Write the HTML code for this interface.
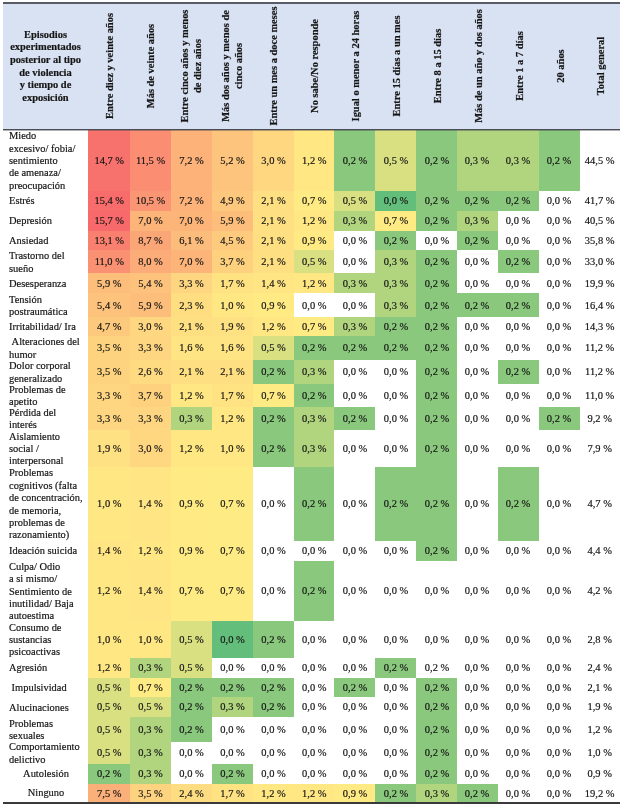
<!DOCTYPE html>
<html lang="es"><head><meta charset="utf-8"><title>Tabla</title>
<style>
html,body{margin:0;padding:0;background:#fff;}
body{width:624px;height:805px;position:relative;overflow:hidden;font-family:"Liberation Serif","Times New Roman",serif;font-size:10.45px;color:#151515;-webkit-text-stroke:0.18px #151515;}
.a{position:absolute;}
.hd{left:3px;top:2px;width:617.3px;height:128px;background:#d9e2f3;border-top:2px solid #595c66;border-bottom:1px solid #4b4d56;box-sizing:border-box;}
.h0{left:3px;top:4px;width:85px;height:125px;display:flex;align-items:center;justify-content:center;text-align:center;font-weight:bold;line-height:12.6px;}
.hv{top:3px;width:41px;height:125px;}
.hv span{font-size:10.45px;position:absolute;left:50%;top:50%;transform:translate(-50%,-50%) rotate(-90deg);white-space:nowrap;text-align:center;font-weight:bold;line-height:13px;display:block;}
.r{left:3px;width:618px;}
.l{position:absolute;left:6px;top:1px;bottom:-1px;width:82px;display:flex;align-items:center;line-height:12.4px;white-space:nowrap;}
.l.c{left:0;width:85px;justify-content:center;}
.c{position:absolute;top:0;bottom:0;width:41px;box-sizing:border-box;padding-left:1px;display:flex;align-items:center;justify-content:center;white-space:nowrap;}
.hb{left:3px;top:130px;width:617.3px;height:1px;background:rgba(60,62,72,0.4);}
.bt{left:3px;top:802px;width:617.3px;height:1.5px;background:#3a3a3a;}
</style></head><body>
<div class="a hd"></div>
<div class="a h0"><div>Episodios<br>experimentados<br>posterior al tipo<br>de violencia<br>y tiempo de<br>exposición</div></div>
<div class="a hv" style="left:88px;width:41.5px"><span>Entre diez y veinte años</span></div>
<div class="a hv" style="left:129.5px;width:41px"><span>Más de veinte años</span></div>
<div class="a hv" style="left:170.5px;width:41px"><span>Entre cinco años y menos<br>de diez años</span></div>
<div class="a hv" style="left:211.5px;width:41px"><span>Más dos años y menos de<br>cinco años</span></div>
<div class="a hv" style="left:252.5px;width:41px"><span>Entre un mes a doce meses</span></div>
<div class="a hv" style="left:293.5px;width:40.5px"><span>No sabe/No responde</span></div>
<div class="a hv" style="left:334px;width:41px"><span>Igual o menor a 24 horas</span></div>
<div class="a hv" style="left:375px;width:41px"><span>Entre 15 días a un mes</span></div>
<div class="a hv" style="left:416px;width:41px"><span>Entre 8 a 15 días</span></div>
<div class="a hv" style="left:457px;width:41px"><span>Más de un año y dos años</span></div>
<div class="a hv" style="left:498px;width:41px"><span>Entre 1 a 7 días</span></div>
<div class="a hv" style="left:539px;width:41px"><span>20 años</span></div>
<div class="a hv" style="left:580px;width:40.3px"><span>Total general</span></div>
<div class="a r" style="top:130px;height:60.5px"><div class="l"><div>Miedo<br>excesivo/ fobia/<br>sentimiento<br>de amenaza/<br>preocupación</div></div><div class="c" style="left:85px;width:41.5px;background:#f8726d">14,7 %</div><div class="c" style="left:126.5px;width:41px;background:#fa8d72">11,5 %</div><div class="c" style="left:167.5px;width:41px;background:#fcb279">7,2 %</div><div class="c" style="left:208.5px;width:41px;background:#fdc47d">5,2 %</div><div class="c" style="left:249.5px;width:41px;background:#fed780">3,0 %</div><div class="c" style="left:290.5px;width:40.5px;background:#ffe783">1,2 %</div><div class="c" style="left:331px;width:41px;background:#8ac97d">0,2 %</div><div class="c" style="left:372px;width:41px;background:#d8e082">0,5 %</div><div class="c" style="left:413px;width:41px;background:#8ac97d">0,2 %</div><div class="c" style="left:454px;width:41px;padding:0 1px 0 0;background:#b1d47f">0,3 %</div><div class="c" style="left:495px;width:41px;padding:0 1px 0 0;background:#b1d47f">0,3 %</div><div class="c" style="left:536px;width:41px;padding:0 1px 0 0;background:#8ac97d">0,2 %</div><div class="c" style="left:577px;width:40.3px;padding:0 1px 0 0">44,5 %</div></div>
<div class="a r" style="top:190.5px;height:20px"><div class="l"><div>Estrés</div></div><div class="c" style="left:85px;width:41.5px;background:#f86c6c">15,4 %</div><div class="c" style="left:126.5px;width:41px;background:#fa9674">10,5 %</div><div class="c" style="left:167.5px;width:41px;background:#fcb279">7,2 %</div><div class="c" style="left:208.5px;width:41px;background:#fdc77d">4,9 %</div><div class="c" style="left:249.5px;width:41px;background:#fedf82">2,1 %</div><div class="c" style="left:290.5px;width:40.5px;background:#ffeb84">0,7 %</div><div class="c" style="left:331px;width:41px;background:#d8e082">0,5 %</div><div class="c" style="left:372px;width:41px;background:#63be7b">0,0 %</div><div class="c" style="left:413px;width:41px;background:#8ac97d">0,2 %</div><div class="c" style="left:454px;width:41px;padding:0 1px 0 0;background:#8ac97d">0,2 %</div><div class="c" style="left:495px;width:41px;padding:0 1px 0 0;background:#8ac97d">0,2 %</div><div class="c" style="left:536px;width:41px;padding:0 1px 0 0">0,0 %</div><div class="c" style="left:577px;width:40.3px;padding:0 1px 0 0">41,7 %</div></div>
<div class="a r" style="top:210.5px;height:20px"><div class="l"><div>Depresión</div></div><div class="c" style="left:85px;width:41.5px;background:#f8696b">15,7 %</div><div class="c" style="left:126.5px;width:41px;background:#fcb479">7,0 %</div><div class="c" style="left:167.5px;width:41px;background:#fcb479">7,0 %</div><div class="c" style="left:208.5px;width:41px;background:#fdbe7b">5,9 %</div><div class="c" style="left:249.5px;width:41px;background:#fedf82">2,1 %</div><div class="c" style="left:290.5px;width:40.5px;background:#ffe783">1,2 %</div><div class="c" style="left:331px;width:41px;background:#b1d47f">0,3 %</div><div class="c" style="left:372px;width:41px;background:#ffeb84">0,7 %</div><div class="c" style="left:413px;width:41px;background:#8ac97d">0,2 %</div><div class="c" style="left:454px;width:41px;padding:0 1px 0 0;background:#b1d47f">0,3 %</div><div class="c" style="left:495px;width:41px;padding:0 1px 0 0">0,0 %</div><div class="c" style="left:536px;width:41px;padding:0 1px 0 0">0,0 %</div><div class="c" style="left:577px;width:40.3px;padding:0 1px 0 0">40,5 %</div></div>
<div class="a r" style="top:230.5px;height:19.5px"><div class="l"><div>Ansiedad</div></div><div class="c" style="left:85px;width:41.5px;background:#f97f6f">13,1 %</div><div class="c" style="left:126.5px;width:41px;background:#fba677">8,7 %</div><div class="c" style="left:167.5px;width:41px;background:#fcbc7b">6,1 %</div><div class="c" style="left:208.5px;width:41px;background:#fdca7e">4,5 %</div><div class="c" style="left:249.5px;width:41px;background:#fedf82">2,1 %</div><div class="c" style="left:290.5px;width:40.5px;background:#ffea84">0,9 %</div><div class="c" style="left:331px;width:41px">0,0 %</div><div class="c" style="left:372px;width:41px;background:#8ac97d">0,2 %</div><div class="c" style="left:413px;width:41px">0,0 %</div><div class="c" style="left:454px;width:41px;padding:0 1px 0 0;background:#8ac97d">0,2 %</div><div class="c" style="left:495px;width:41px;padding:0 1px 0 0">0,0 %</div><div class="c" style="left:536px;width:41px;padding:0 1px 0 0">0,0 %</div><div class="c" style="left:577px;width:40.3px;padding:0 1px 0 0">35,8 %</div></div>
<div class="a r" style="top:250px;height:23px"><div class="l"><div>Trastorno del<br>sueño</div></div><div class="c" style="left:85px;width:41.5px;background:#fa9173">11,0 %</div><div class="c" style="left:126.5px;width:41px;background:#fcac78">8,0 %</div><div class="c" style="left:167.5px;width:41px;background:#fcb479">7,0 %</div><div class="c" style="left:208.5px;width:41px;background:#fed17f">3,7 %</div><div class="c" style="left:249.5px;width:41px;background:#fedf82">2,1 %</div><div class="c" style="left:290.5px;width:40.5px;background:#d8e082">0,5 %</div><div class="c" style="left:331px;width:41px">0,0 %</div><div class="c" style="left:372px;width:41px;background:#b1d47f">0,3 %</div><div class="c" style="left:413px;width:41px;background:#8ac97d">0,2 %</div><div class="c" style="left:454px;width:41px;padding:0 1px 0 0">0,0 %</div><div class="c" style="left:495px;width:41px;padding:0 1px 0 0;background:#8ac97d">0,2 %</div><div class="c" style="left:536px;width:41px;padding:0 1px 0 0">0,0 %</div><div class="c" style="left:577px;width:40.3px;padding:0 1px 0 0">33,0 %</div></div>
<div class="a r" style="top:273px;height:20px"><div class="l"><div>Desesperanza</div></div><div class="c" style="left:85px;width:41.5px;background:#fdbe7b">5,9 %</div><div class="c" style="left:126.5px;width:41px;background:#fdc37c">5,4 %</div><div class="c" style="left:167.5px;width:41px;background:#fed580">3,3 %</div><div class="c" style="left:208.5px;width:41px;background:#ffe282">1,7 %</div><div class="c" style="left:249.5px;width:41px;background:#ffe583">1,4 %</div><div class="c" style="left:290.5px;width:40.5px;background:#ffe783">1,2 %</div><div class="c" style="left:331px;width:41px;background:#b1d47f">0,3 %</div><div class="c" style="left:372px;width:41px;background:#b1d47f">0,3 %</div><div class="c" style="left:413px;width:41px;background:#8ac97d">0,2 %</div><div class="c" style="left:454px;width:41px;padding:0 1px 0 0">0,0 %</div><div class="c" style="left:495px;width:41px;padding:0 1px 0 0">0,0 %</div><div class="c" style="left:536px;width:41px;padding:0 1px 0 0">0,0 %</div><div class="c" style="left:577px;width:40.3px;padding:0 1px 0 0">19,9 %</div></div>
<div class="a r" style="top:293px;height:24px"><div class="l"><div>Tensión<br>postraumática</div></div><div class="c" style="left:85px;width:41.5px;background:#fdc37c">5,4 %</div><div class="c" style="left:126.5px;width:41px;background:#fdbe7b">5,9 %</div><div class="c" style="left:167.5px;width:41px;background:#fede81">2,3 %</div><div class="c" style="left:208.5px;width:41px;background:#ffe883">1,0 %</div><div class="c" style="left:249.5px;width:41px;background:#ffea84">0,9 %</div><div class="c" style="left:290.5px;width:40.5px">0,0 %</div><div class="c" style="left:331px;width:41px">0,0 %</div><div class="c" style="left:372px;width:41px;background:#b1d47f">0,3 %</div><div class="c" style="left:413px;width:41px;background:#8ac97d">0,2 %</div><div class="c" style="left:454px;width:41px;padding:0 1px 0 0;background:#8ac97d">0,2 %</div><div class="c" style="left:495px;width:41px;padding:0 1px 0 0;background:#8ac97d">0,2 %</div><div class="c" style="left:536px;width:41px;padding:0 1px 0 0">0,0 %</div><div class="c" style="left:577px;width:40.3px;padding:0 1px 0 0">16,4 %</div></div>
<div class="a r" style="top:317px;height:19px"><div class="l"><div>Irritabilidad/ Ira</div></div><div class="c" style="left:85px;width:41.5px;background:#fdc97d">4,7 %</div><div class="c" style="left:126.5px;width:41px;background:#fed780">3,0 %</div><div class="c" style="left:167.5px;width:41px;background:#fedf82">2,1 %</div><div class="c" style="left:208.5px;width:41px;background:#fee182">1,9 %</div><div class="c" style="left:249.5px;width:41px;background:#ffe783">1,2 %</div><div class="c" style="left:290.5px;width:40.5px;background:#ffeb84">0,7 %</div><div class="c" style="left:331px;width:41px;background:#b1d47f">0,3 %</div><div class="c" style="left:372px;width:41px;background:#8ac97d">0,2 %</div><div class="c" style="left:413px;width:41px;background:#8ac97d">0,2 %</div><div class="c" style="left:454px;width:41px;padding:0 1px 0 0">0,0 %</div><div class="c" style="left:495px;width:41px;padding:0 1px 0 0">0,0 %</div><div class="c" style="left:536px;width:41px;padding:0 1px 0 0">0,0 %</div><div class="c" style="left:577px;width:40.3px;padding:0 1px 0 0">14,3 %</div></div>
<div class="a r" style="top:336px;height:23.5px"><div class="l"><div>&nbsp;Alteraciones del<br>humor</div></div><div class="c" style="left:85px;width:41.5px;background:#fed37f">3,5 %</div><div class="c" style="left:126.5px;width:41px;background:#fed580">3,3 %</div><div class="c" style="left:167.5px;width:41px;background:#ffe483">1,6 %</div><div class="c" style="left:208.5px;width:41px;background:#ffe483">1,6 %</div><div class="c" style="left:249.5px;width:41px;background:#d8e082">0,5 %</div><div class="c" style="left:290.5px;width:40.5px;background:#8ac97d">0,2 %</div><div class="c" style="left:331px;width:41px;background:#8ac97d">0,2 %</div><div class="c" style="left:372px;width:41px;background:#8ac97d">0,2 %</div><div class="c" style="left:413px;width:41px;background:#8ac97d">0,2 %</div><div class="c" style="left:454px;width:41px;padding:0 1px 0 0">0,0 %</div><div class="c" style="left:495px;width:41px;padding:0 1px 0 0">0,0 %</div><div class="c" style="left:536px;width:41px;padding:0 1px 0 0">0,0 %</div><div class="c" style="left:577px;width:40.3px;padding:0 1px 0 0">11,2 %</div></div>
<div class="a r" style="top:359.5px;height:24px"><div class="l"><div>Dolor corporal<br>generalizado</div></div><div class="c" style="left:85px;width:41.5px;background:#fed37f">3,5 %</div><div class="c" style="left:126.5px;width:41px;background:#fedb81">2,6 %</div><div class="c" style="left:167.5px;width:41px;background:#fedf82">2,1 %</div><div class="c" style="left:208.5px;width:41px;background:#fedf82">2,1 %</div><div class="c" style="left:249.5px;width:41px;background:#8ac97d">0,2 %</div><div class="c" style="left:290.5px;width:40.5px;background:#b1d47f">0,3 %</div><div class="c" style="left:331px;width:41px">0,0 %</div><div class="c" style="left:372px;width:41px">0,0 %</div><div class="c" style="left:413px;width:41px;background:#8ac97d">0,2 %</div><div class="c" style="left:454px;width:41px;padding:0 1px 0 0">0,0 %</div><div class="c" style="left:495px;width:41px;padding:0 1px 0 0;background:#8ac97d">0,2 %</div><div class="c" style="left:536px;width:41px;padding:0 1px 0 0">0,0 %</div><div class="c" style="left:577px;width:40.3px;padding:0 1px 0 0">11,2 %</div></div>
<div class="a r" style="top:383.5px;height:23px"><div class="l"><div>Problemas de<br>apetito</div></div><div class="c" style="left:85px;width:41.5px;background:#fed580">3,3 %</div><div class="c" style="left:126.5px;width:41px;background:#fed17f">3,7 %</div><div class="c" style="left:167.5px;width:41px;background:#ffe783">1,2 %</div><div class="c" style="left:208.5px;width:41px;background:#ffe282">1,7 %</div><div class="c" style="left:249.5px;width:41px;background:#ffeb84">0,7 %</div><div class="c" style="left:290.5px;width:40.5px;background:#8ac97d">0,2 %</div><div class="c" style="left:331px;width:41px">0,0 %</div><div class="c" style="left:372px;width:41px">0,0 %</div><div class="c" style="left:413px;width:41px;background:#8ac97d">0,2 %</div><div class="c" style="left:454px;width:41px;padding:0 1px 0 0">0,0 %</div><div class="c" style="left:495px;width:41px;padding:0 1px 0 0">0,0 %</div><div class="c" style="left:536px;width:41px;padding:0 1px 0 0">0,0 %</div><div class="c" style="left:577px;width:40.3px;padding:0 1px 0 0">11,0 %</div></div>
<div class="a r" style="top:406.5px;height:23.5px"><div class="l"><div>Pérdida del<br>interés</div></div><div class="c" style="left:85px;width:41.5px;background:#fed580">3,3 %</div><div class="c" style="left:126.5px;width:41px;background:#fed580">3,3 %</div><div class="c" style="left:167.5px;width:41px;background:#b1d47f">0,3 %</div><div class="c" style="left:208.5px;width:41px;background:#ffe783">1,2 %</div><div class="c" style="left:249.5px;width:41px;background:#8ac97d">0,2 %</div><div class="c" style="left:290.5px;width:40.5px;background:#b1d47f">0,3 %</div><div class="c" style="left:331px;width:41px;background:#8ac97d">0,2 %</div><div class="c" style="left:372px;width:41px">0,0 %</div><div class="c" style="left:413px;width:41px;background:#8ac97d">0,2 %</div><div class="c" style="left:454px;width:41px;padding:0 1px 0 0">0,0 %</div><div class="c" style="left:495px;width:41px;padding:0 1px 0 0">0,0 %</div><div class="c" style="left:536px;width:41px;padding:0 1px 0 0;background:#8ac97d">0,2 %</div><div class="c" style="left:577px;width:40.3px;padding:0 1px 0 0">9,2 %</div></div>
<div class="a r" style="top:430px;height:36.5px"><div class="l"><div>Aislamiento<br>social /<br>interpersonal</div></div><div class="c" style="left:85px;width:41.5px;background:#fee182">1,9 %</div><div class="c" style="left:126.5px;width:41px;background:#fed780">3,0 %</div><div class="c" style="left:167.5px;width:41px;background:#ffe783">1,2 %</div><div class="c" style="left:208.5px;width:41px;background:#ffe883">1,0 %</div><div class="c" style="left:249.5px;width:41px;background:#8ac97d">0,2 %</div><div class="c" style="left:290.5px;width:40.5px;background:#b1d47f">0,3 %</div><div class="c" style="left:331px;width:41px">0,0 %</div><div class="c" style="left:372px;width:41px">0,0 %</div><div class="c" style="left:413px;width:41px;background:#8ac97d">0,2 %</div><div class="c" style="left:454px;width:41px;padding:0 1px 0 0">0,0 %</div><div class="c" style="left:495px;width:41px;padding:0 1px 0 0">0,0 %</div><div class="c" style="left:536px;width:41px;padding:0 1px 0 0">0,0 %</div><div class="c" style="left:577px;width:40.3px;padding:0 1px 0 0">7,9 %</div></div>
<div class="a r" style="top:466.5px;height:74px"><div class="l"><div>Problemas<br>cognitivos (falta<br>de concentración,<br>de memoria,<br>problemas de<br>razonamiento)</div></div><div class="c" style="left:85px;width:41.5px;background:#ffe883">1,0 %</div><div class="c" style="left:126.5px;width:41px;background:#ffe583">1,4 %</div><div class="c" style="left:167.5px;width:41px;background:#ffea84">0,9 %</div><div class="c" style="left:208.5px;width:41px;background:#ffeb84">0,7 %</div><div class="c" style="left:249.5px;width:41px">0,0 %</div><div class="c" style="left:290.5px;width:40.5px;background:#8ac97d">0,2 %</div><div class="c" style="left:331px;width:41px">0,0 %</div><div class="c" style="left:372px;width:41px;background:#8ac97d">0,2 %</div><div class="c" style="left:413px;width:41px;background:#8ac97d">0,2 %</div><div class="c" style="left:454px;width:41px;padding:0 1px 0 0">0,0 %</div><div class="c" style="left:495px;width:41px;padding:0 1px 0 0;background:#8ac97d">0,2 %</div><div class="c" style="left:536px;width:41px;padding:0 1px 0 0">0,0 %</div><div class="c" style="left:577px;width:40.3px;padding:0 1px 0 0">4,7 %</div></div>
<div class="a r" style="top:540.5px;height:20px"><div class="l"><div>Ideación suicida</div></div><div class="c" style="left:85px;width:41.5px;background:#ffe583">1,4 %</div><div class="c" style="left:126.5px;width:41px;background:#ffe783">1,2 %</div><div class="c" style="left:167.5px;width:41px;background:#ffea84">0,9 %</div><div class="c" style="left:208.5px;width:41px;background:#ffeb84">0,7 %</div><div class="c" style="left:249.5px;width:41px">0,0 %</div><div class="c" style="left:290.5px;width:40.5px">0,0 %</div><div class="c" style="left:331px;width:41px">0,0 %</div><div class="c" style="left:372px;width:41px">0,0 %</div><div class="c" style="left:413px;width:41px;background:#8ac97d">0,2 %</div><div class="c" style="left:454px;width:41px;padding:0 1px 0 0">0,0 %</div><div class="c" style="left:495px;width:41px;padding:0 1px 0 0">0,0 %</div><div class="c" style="left:536px;width:41px;padding:0 1px 0 0">0,0 %</div><div class="c" style="left:577px;width:40.3px;padding:0 1px 0 0">4,4 %</div></div>
<div class="a r" style="top:560.5px;height:60.5px"><div class="l"><div>Culpa/ Odio<br>a si mismo/<br>Sentimiento de<br>inutilidad/ Baja<br>autoestima</div></div><div class="c" style="left:85px;width:41.5px;background:#ffe783">1,2 %</div><div class="c" style="left:126.5px;width:41px;background:#ffe583">1,4 %</div><div class="c" style="left:167.5px;width:41px;background:#ffeb84">0,7 %</div><div class="c" style="left:208.5px;width:41px;background:#ffeb84">0,7 %</div><div class="c" style="left:249.5px;width:41px">0,0 %</div><div class="c" style="left:290.5px;width:40.5px;background:#8ac97d">0,2 %</div><div class="c" style="left:331px;width:41px">0,0 %</div><div class="c" style="left:372px;width:41px">0,0 %</div><div class="c" style="left:413px;width:41px">0,0 %</div><div class="c" style="left:454px;width:41px;padding:0 1px 0 0">0,0 %</div><div class="c" style="left:495px;width:41px;padding:0 1px 0 0">0,0 %</div><div class="c" style="left:536px;width:41px;padding:0 1px 0 0">0,0 %</div><div class="c" style="left:577px;width:40.3px;padding:0 1px 0 0">4,2 %</div></div>
<div class="a r" style="top:621px;height:36.5px"><div class="l"><div>Consumo de<br>sustancias<br>psicoactivas</div></div><div class="c" style="left:85px;width:41.5px;background:#ffe883">1,0 %</div><div class="c" style="left:126.5px;width:41px;background:#ffe883">1,0 %</div><div class="c" style="left:167.5px;width:41px;background:#d8e082">0,5 %</div><div class="c" style="left:208.5px;width:41px;background:#63be7b">0,0 %</div><div class="c" style="left:249.5px;width:41px;background:#8ac97d">0,2 %</div><div class="c" style="left:290.5px;width:40.5px">0,0 %</div><div class="c" style="left:331px;width:41px">0,0 %</div><div class="c" style="left:372px;width:41px">0,0 %</div><div class="c" style="left:413px;width:41px">0,0 %</div><div class="c" style="left:454px;width:41px;padding:0 1px 0 0">0,0 %</div><div class="c" style="left:495px;width:41px;padding:0 1px 0 0">0,0 %</div><div class="c" style="left:536px;width:41px;padding:0 1px 0 0">0,0 %</div><div class="c" style="left:577px;width:40.3px;padding:0 1px 0 0">2,8 %</div></div>
<div class="a r" style="top:657.5px;height:20px"><div class="l"><div>Agresión</div></div><div class="c" style="left:85px;width:41.5px;background:#ffe783">1,2 %</div><div class="c" style="left:126.5px;width:41px;background:#b1d47f">0,3 %</div><div class="c" style="left:167.5px;width:41px;background:#d8e082">0,5 %</div><div class="c" style="left:208.5px;width:41px">0,0 %</div><div class="c" style="left:249.5px;width:41px">0,0 %</div><div class="c" style="left:290.5px;width:40.5px">0,0 %</div><div class="c" style="left:331px;width:41px">0,0 %</div><div class="c" style="left:372px;width:41px;background:#8ac97d">0,2 %</div><div class="c" style="left:413px;width:41px">0,2 %</div><div class="c" style="left:454px;width:41px;padding:0 1px 0 0">0,0 %</div><div class="c" style="left:495px;width:41px;padding:0 1px 0 0">0,0 %</div><div class="c" style="left:536px;width:41px;padding:0 1px 0 0">0,0 %</div><div class="c" style="left:577px;width:40.3px;padding:0 1px 0 0">2,4 %</div></div>
<div class="a r" style="top:677.5px;height:19.5px"><div class="l"><div>&nbsp;Impulsividad</div></div><div class="c" style="left:85px;width:41.5px;background:#d8e082">0,5 %</div><div class="c" style="left:126.5px;width:41px;background:#ffeb84">0,7 %</div><div class="c" style="left:167.5px;width:41px;background:#8ac97d">0,2 %</div><div class="c" style="left:208.5px;width:41px;background:#8ac97d">0,2 %</div><div class="c" style="left:249.5px;width:41px;background:#8ac97d">0,2 %</div><div class="c" style="left:290.5px;width:40.5px">0,0 %</div><div class="c" style="left:331px;width:41px;background:#8ac97d">0,2 %</div><div class="c" style="left:372px;width:41px">0,0 %</div><div class="c" style="left:413px;width:41px;background:#8ac97d">0,2 %</div><div class="c" style="left:454px;width:41px;padding:0 1px 0 0">0,0 %</div><div class="c" style="left:495px;width:41px;padding:0 1px 0 0">0,0 %</div><div class="c" style="left:536px;width:41px;padding:0 1px 0 0">0,0 %</div><div class="c" style="left:577px;width:40.3px;padding:0 1px 0 0">2,1 %</div></div>
<div class="a r" style="top:697px;height:19.5px"><div class="l"><div>Alucinaciones</div></div><div class="c" style="left:85px;width:41.5px;background:#d8e082">0,5 %</div><div class="c" style="left:126.5px;width:41px;background:#d8e082">0,5 %</div><div class="c" style="left:167.5px;width:41px;background:#8ac97d">0,2 %</div><div class="c" style="left:208.5px;width:41px;background:#b1d47f">0,3 %</div><div class="c" style="left:249.5px;width:41px;background:#8ac97d">0,2 %</div><div class="c" style="left:290.5px;width:40.5px">0,0 %</div><div class="c" style="left:331px;width:41px">0,0 %</div><div class="c" style="left:372px;width:41px">0,0 %</div><div class="c" style="left:413px;width:41px;background:#8ac97d">0,2 %</div><div class="c" style="left:454px;width:41px;padding:0 1px 0 0">0,0 %</div><div class="c" style="left:495px;width:41px;padding:0 1px 0 0">0,0 %</div><div class="c" style="left:536px;width:41px;padding:0 1px 0 0">0,0 %</div><div class="c" style="left:577px;width:40.3px;padding:0 1px 0 0">1,9 %</div></div>
<div class="a r" style="top:716.5px;height:25px"><div class="l"><div>Problemas<br>sexuales</div></div><div class="c" style="left:85px;width:41.5px;background:#d8e082">0,5 %</div><div class="c" style="left:126.5px;width:41px;background:#b1d47f">0,3 %</div><div class="c" style="left:167.5px;width:41px;background:#8ac97d">0,2 %</div><div class="c" style="left:208.5px;width:41px">0,0 %</div><div class="c" style="left:249.5px;width:41px">0,0 %</div><div class="c" style="left:290.5px;width:40.5px">0,0 %</div><div class="c" style="left:331px;width:41px">0,0 %</div><div class="c" style="left:372px;width:41px">0,0 %</div><div class="c" style="left:413px;width:41px;background:#8ac97d">0,2 %</div><div class="c" style="left:454px;width:41px;padding:0 1px 0 0">0,0 %</div><div class="c" style="left:495px;width:41px;padding:0 1px 0 0">0,0 %</div><div class="c" style="left:536px;width:41px;padding:0 1px 0 0">0,0 %</div><div class="c" style="left:577px;width:40.3px;padding:0 1px 0 0">1,2 %</div></div>
<div class="a r" style="top:741.5px;height:22.5px"><div class="l"><div>Comportamiento<br>delictivo</div></div><div class="c" style="left:85px;width:41.5px;background:#d8e082">0,5 %</div><div class="c" style="left:126.5px;width:41px;background:#b1d47f">0,3 %</div><div class="c" style="left:167.5px;width:41px">0,0 %</div><div class="c" style="left:208.5px;width:41px">0,0 %</div><div class="c" style="left:249.5px;width:41px">0,0 %</div><div class="c" style="left:290.5px;width:40.5px">0,0 %</div><div class="c" style="left:331px;width:41px">0,0 %</div><div class="c" style="left:372px;width:41px">0,0 %</div><div class="c" style="left:413px;width:41px;background:#8ac97d">0,2 %</div><div class="c" style="left:454px;width:41px;padding:0 1px 0 0">0,0 %</div><div class="c" style="left:495px;width:41px;padding:0 1px 0 0">0,0 %</div><div class="c" style="left:536px;width:41px;padding:0 1px 0 0">0,0 %</div><div class="c" style="left:577px;width:40.3px;padding:0 1px 0 0">1,0 %</div></div>
<div class="a r" style="top:764px;height:19.5px"><div class="l c"><div>Autolesión</div></div><div class="c" style="left:85px;width:41.5px;background:#8ac97d">0,2 %</div><div class="c" style="left:126.5px;width:41px;background:#b1d47f">0,3 %</div><div class="c" style="left:167.5px;width:41px">0,0 %</div><div class="c" style="left:208.5px;width:41px;background:#8ac97d">0,2 %</div><div class="c" style="left:249.5px;width:41px">0,0 %</div><div class="c" style="left:290.5px;width:40.5px">0,0 %</div><div class="c" style="left:331px;width:41px">0,0 %</div><div class="c" style="left:372px;width:41px">0,0 %</div><div class="c" style="left:413px;width:41px;background:#8ac97d">0,2 %</div><div class="c" style="left:454px;width:41px;padding:0 1px 0 0">0,0 %</div><div class="c" style="left:495px;width:41px;padding:0 1px 0 0">0,0 %</div><div class="c" style="left:536px;width:41px;padding:0 1px 0 0">0,0 %</div><div class="c" style="left:577px;width:40.3px;padding:0 1px 0 0">0,9 %</div></div>
<div class="a r" style="top:783.5px;height:19px"><div class="l c"><div>Ninguno</div></div><div class="c" style="left:85px;width:41.5px;background:#fcb079">7,5 %</div><div class="c" style="left:126.5px;width:41px;background:#fed37f">3,5 %</div><div class="c" style="left:167.5px;width:41px;background:#fedc81">2,4 %</div><div class="c" style="left:208.5px;width:41px;background:#ffe282">1,7 %</div><div class="c" style="left:249.5px;width:41px;background:#ffe783">1,2 %</div><div class="c" style="left:290.5px;width:40.5px;background:#ffe783">1,2 %</div><div class="c" style="left:331px;width:41px;background:#ffea84">0,9 %</div><div class="c" style="left:372px;width:41px;background:#8ac97d">0,2 %</div><div class="c" style="left:413px;width:41px;background:#b1d47f">0,3 %</div><div class="c" style="left:454px;width:41px;padding:0 1px 0 0;background:#8ac97d">0,2 %</div><div class="c" style="left:495px;width:41px;padding:0 1px 0 0">0,0 %</div><div class="c" style="left:536px;width:41px;padding:0 1px 0 0">0,0 %</div><div class="c" style="left:577px;width:40.3px;padding:0 1px 0 0">19,2 %</div></div>
<div class="a hb"></div>
<div class="a bt"></div>
</body></html>
